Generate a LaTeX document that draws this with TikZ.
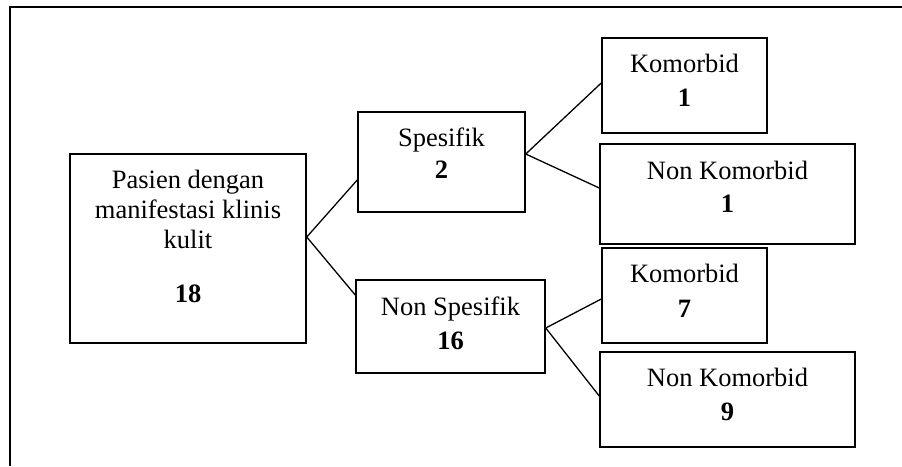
\documentclass[tikz,border=0pt]{standalone}
\usepackage{fontspec}
\setmainfont{Liberation Serif}
\begin{document}
\begin{tikzpicture}[x=1pt,y=-1pt,
  box/.style={draw, line width=1.5pt, inner sep=0pt, rectangle},
  txt/.style={anchor=base, align=center, inner sep=0pt, font=\fontsize{26.5}{30}\selectfont},
  conn/.style={line width=1.3pt}]
\useasboundingbox (0,0) rectangle (902,466);
\draw[line width=1.5pt] (902,7) -- (10,7) -- (10,466);
% boxes
\node[box, minimum width=236pt, minimum height=189pt] (main) at (188,248.5) {};
\node[box, minimum width=167pt, minimum height=100pt] (spes) at (441.5,162) {};
\node[box, minimum width=189pt, minimum height=93pt] (nspes) at (450.5,326.5) {};
\node[box, minimum width=165pt, minimum height=95pt] (k1) at (684.5,85.5) {};
\node[box, minimum width=255pt, minimum height=100pt] (nk1) at (727.5,194) {};
\node[box, minimum width=165pt, minimum height=95pt] (k7) at (684.5,295.5) {};
\node[box, minimum width=255pt, minimum height=95pt] (nk9) at (727.5,399.5) {};
% texts (anchored at the baseline of the last line)
\node[txt] (tmain) at (188,302.7) {Pasien dengan\\manifestasi klinis\\kulit\\[24pt]\textbf{18}};
\node[txt] (tspes) at (441.5,178.3) {Spesifik\\[1.6pt]\textbf{2}};
\node[txt] (tnspes) at (450.5,349.3) {Non Spesifik\\[4pt]\textbf{16}};
\node[txt] (tk1) at (684.5,106.7) {Komorbid\\[4pt]\textbf{1}};
\node[txt] (tnk1) at (727.5,212.7) {Non Komorbid\\[3.4pt]\textbf{1}};
\node[txt] (tk7) at (684.5,317.3) {Komorbid\\[4.6pt]\textbf{7}};
\node[txt] (tnk9) at (727.5,420) {Non Komorbid\\[3.3pt]\textbf{9}};
% connectors
\draw[conn] ([yshift=-18pt]spes.west) -- ([yshift=11.5pt]main.east) -- ([yshift=31.5pt]nspes.west);
\draw[conn] ([yshift=2.5pt]k1.west) -- ([yshift=8pt]spes.east) -- ([yshift=6pt]nk1.west);
\draw[conn] ([yshift=-3.5pt]k7.west) -- ([yshift=-1.5pt]nspes.east) -- ([yshift=3.5pt]nk9.west);
\end{tikzpicture}
\end{document}
